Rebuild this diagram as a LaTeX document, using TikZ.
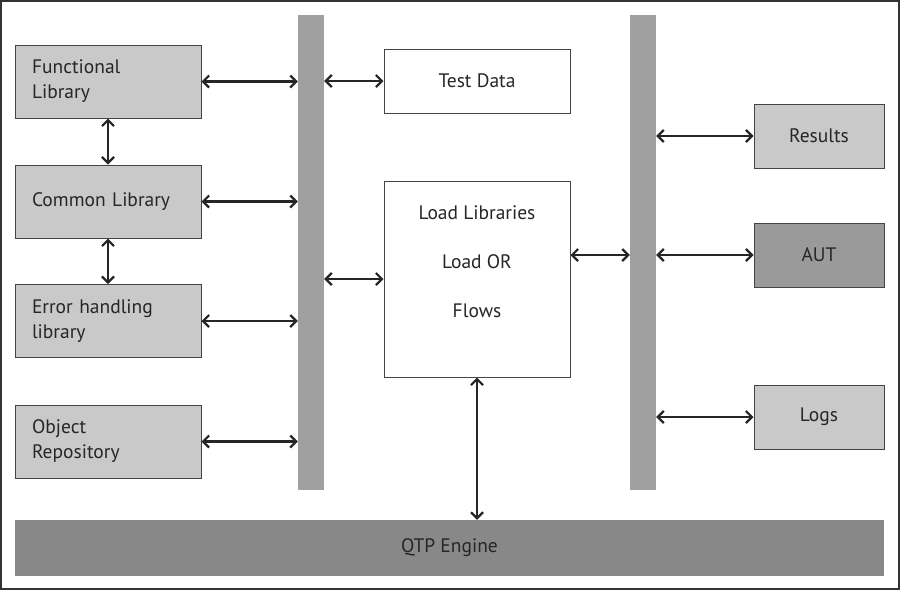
\documentclass[tikz,border=0pt]{standalone}
\usepackage{fontspec}
\setmainfont{PT Sans}
\usepackage{tikz}
\usetikzlibrary{arrows.meta,positioning,calc}

\definecolor{boxgray}{HTML}{C9C9C9}
\definecolor{bargray}{HTML}{A0A0A0}
\definecolor{autgray}{HTML}{9A9A9A}
\definecolor{enginegray}{HTML}{888888}
\definecolor{edgegray}{HTML}{444444}

\tikzset{
    libbox/.style={draw=edgegray, fill=boxgray, line width=1pt, minimum width=186, minimum height=73,
        text width=152, align=left, inner sep=0pt},
    sidebox/.style={draw=edgegray, fill=boxgray, line width=1pt, minimum width=130, minimum height=64},
    plainbox/.style={draw=edgegray, fill=white, line width=1pt, minimum width=186},
    busbar/.style={fill=bargray, minimum width=26, minimum height=475, inner sep=0pt},
    link/.style={{Straight Barb[length=6pt,width=12pt]}-{Straight Barb[length=6pt,width=12pt]}, line width=2.2pt, draw=black!85}
}

\begin{document}
\begin{tikzpicture}[x=1pt, y=-1pt, font=\fontsize{19.5}{25}\selectfont, text=black!85]
    \useasboundingbox (0,0) rectangle (900,590);
    \draw[line width=2.5pt, draw=black!80] (1,1) rectangle (899,589);

    % Libraries on the left
    \node[libbox] (func) at (108, 81.5) {Functional\\Library};
    \node[libbox] (common) at (108, 201.5) {Common Library};
    \node[libbox] (error) at (108, 321) {Error handling\\library};
    \node[libbox] (objrep) at (108, 441.5) {Object\\Repository};

    % Bars
    \node[busbar] (barA) at (311, 252.5) {};
    \node[busbar] (barB) at (643, 252.5) {};

    % Middle boxes
    \node[plainbox, minimum height=64] (testdata) at (477, 81) {Test Data};
    \node[plainbox, minimum height=196] (load) at (477, 279) {};
    \node (loadlib) at (477, 213) {Load Libraries};
    \node (loador) at (477, 262) {Load OR};
    \node (flows) at (477, 311) {Flows};

    % Right boxes
    \node[sidebox] (results) at (819, 136) {Results};
    \node[sidebox, fill=autgray] (aut) at (819, 255) {AUT};
    \node[sidebox] (logs) at (819, 417) {Logs};

    % Engine
    \node[fill=enginegray, minimum width=869, minimum height=56, inner sep=0pt] (engine) at (449.5, 548) {QTP Engine};

    % Connectors
    \draw[link] (func.east) -- (func.east -| barA.west);
    \draw[link] (common.east) -- (common.east -| barA.west);
    \draw[link] (error.east) -- (error.east -| barA.west);
    \draw[link] (objrep.east) -- (objrep.east -| barA.west);
    \draw[link] (func.south) -- (common.north);
    \draw[link] (common.south) -- (error.north);
    \draw[link] (barA.east |- testdata.west) -- (testdata.west);
    \draw[link] (barA.east |- load.west) -- (load.west);
    \draw[link] (load.east |- aut.west) -- (barB.west |- aut.west);
    \draw[link] (barB.east |- results.west) -- (results.west);
    \draw[link] (barB.east |- aut.west) -- (aut.west);
    \draw[link] (barB.east |- logs.west) -- (logs.west);
    \draw[link] (load.south) -- (load.south |- engine.north);
\end{tikzpicture}
\end{document}
